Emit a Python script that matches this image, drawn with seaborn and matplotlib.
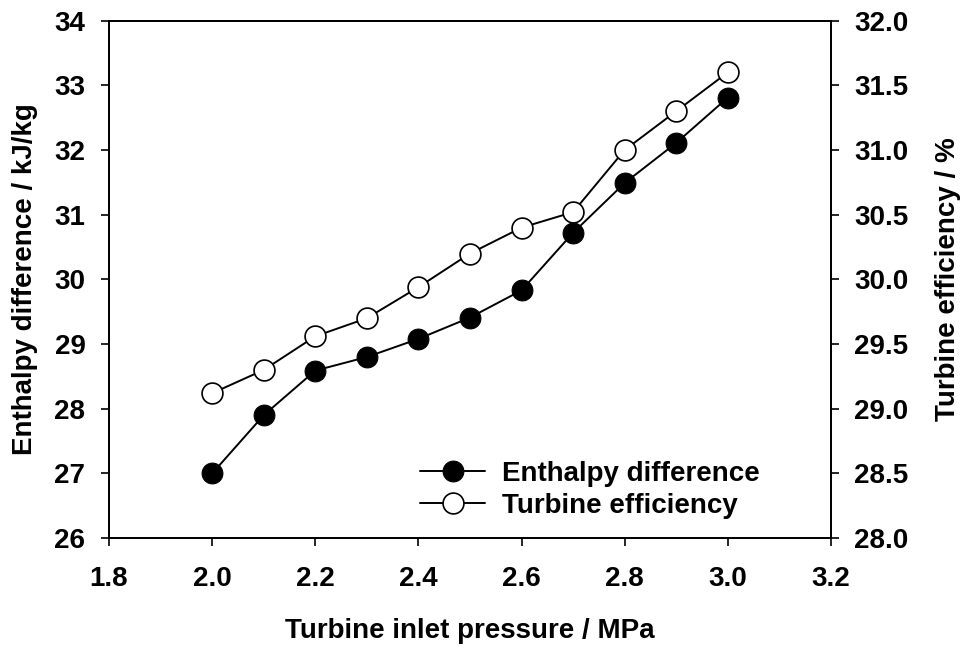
import numpy as np
import pandas as pd
import matplotlib
matplotlib.use("Agg")
import matplotlib.pyplot as plt
import seaborn as sns

# values
pressure = [2.0, 2.1, 2.2, 2.3, 2.4, 2.5, 2.6, 2.7, 2.8, 2.9, 3.0]
enthalpy_diff = [27.0, 27.90, 28.59, 28.80, 29.08, 29.41, 29.83, 30.72, 31.49, 32.11, 32.81]
turbine_eff = [29.12, 29.30, 29.56, 29.70, 29.94, 30.20, 30.40, 30.52, 31.00, 31.30, 31.60]

x_ticks = [1.8, 2.0, 2.2, 2.4, 2.6, 2.8, 3.0, 3.2]
left_ticks = [26, 27, 28, 29, 30, 31, 32, 33, 34]
right_ticks = [28.0, 28.5, 29.0, 29.5, 30.0, 30.5, 31.0, 31.5, 32.0]

df = pd.DataFrame({"pressure": pressure, "enthalpy": enthalpy_diff, "eff": turbine_eff})

sns.set_style("ticks")
plt.rcParams["font.family"] = ["Liberation Sans", "DejaVu Sans"]
plt.rcParams["font.weight"] = "bold"
plt.rcParams["axes.labelweight"] = "bold"
plt.rcParams["text.color"] = "black"
plt.rcParams["axes.labelcolor"] = "black"

fig = plt.figure(figsize=(9.65, 6.46), dpi=100)
ax = fig.add_axes([0.113, 0.167, 0.748, 0.801])
ax2 = ax.twinx()

sns.lineplot(data=df, x="pressure", y="enthalpy", ax=ax, color="black", lw=1.4,
             marker="o", markersize=15, markerfacecolor="black", markeredgecolor="black",
             label="Enthalpy difference", legend=False)
sns.lineplot(data=df, x="pressure", y="eff", ax=ax2, color="black", lw=1.4,
             marker="o", markersize=15, markerfacecolor="white", markeredgecolor="black",
             markeredgewidth=1.2, label="Turbine efficiency", legend=False)

ax.set_xlim(1.8, 3.2)
ax.set_ylim(26, 34)
ax2.set_ylim(28, 32)
ax.set_xticks(x_ticks)
ax.set_xticklabels([f"{v:.1f}" for v in x_ticks])
ax.set_yticks(left_ticks)
ax2.set_yticks(right_ticks)
ax2.set_yticklabels([f"{v:.1f}" for v in right_ticks])

for a in (ax, ax2):
    for s in a.spines.values():
        s.set_visible(True)
        s.set_linewidth(1.3)
        s.set_color("black")
    a.tick_params(axis="both", direction="out", length=6, width=1.2, pad=11,
                  labelsize=20, colors="black")
ax.tick_params(axis="x", pad=14)

ax.set_xlabel("Turbine inlet pressure / MPa", fontsize=20, fontweight="bold",
              labelpad=19, color="black")
ax.set_ylabel("Enthalpy difference / kJ/kg", fontsize=20, fontweight="bold",
              labelpad=12, color="black")
ax2.set_ylabel("Turbine efficiency / %", fontsize=20, fontweight="bold",
               labelpad=19, color="black")

h1, l1 = ax.get_legend_handles_labels()
h2, l2 = ax2.get_legend_handles_labels()
leg = ax2.legend(h1 + h2, l1 + l2, loc="center left", bbox_to_anchor=(0.396, 0.093),
                 frameon=False, handlelength=2.35, handletextpad=0.6,
                 labelspacing=0.2, prop={"weight": "bold", "size": 20})
for t in leg.get_texts():
    t.set_color("black")

fig.savefig("out.png", dpi=100)
